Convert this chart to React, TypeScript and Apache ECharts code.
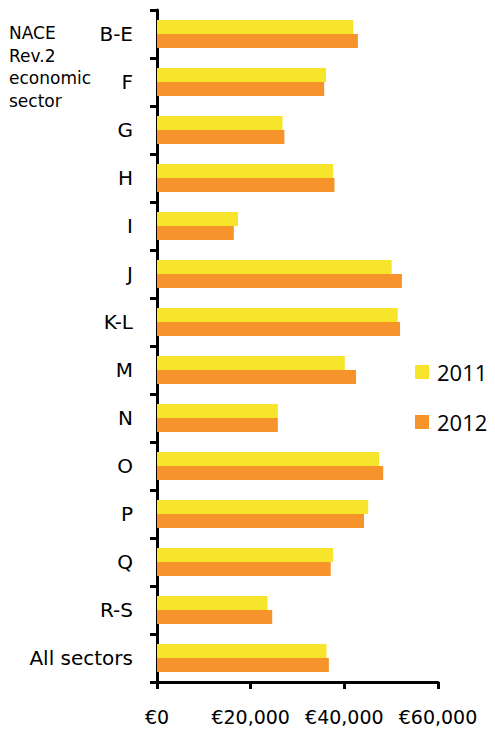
import React, { useEffect, useRef } from "react";
import * as echarts from "echarts";

const categories = ["B-E", "F", "G", "H", "I", "J", "K-L", "M", "N", "O", "P", "Q", "R-S", "All sectors"];
const values2011 = [41900, 36100, 26800, 37600, 17300, 50100, 51400, 40100, 25800, 47400, 45100, 37600, 23600, 36200];
const values2012 = [42900, 35700, 27200, 37900, 16400, 52300, 51900, 42500, 25800, 48300, 44200, 37100, 24600, 36700];
const seriesNames = ["2011", "2012"];
const seriesColors = ["#F7E52B", "#F7932B"];
const axisTitle = "NACE\nRev.2\neconomic\nsector";

export default function App() {
  const ref = useRef<HTMLDivElement>(null);
  useEffect(() => {
    if (!ref.current) return;
    const chart = echarts.init(ref.current, null, { renderer: "svg" });
    const fmt = (v: number) => "€" + v.toLocaleString("en-US");
    chart.setOption({
      animation: false,
      backgroundColor: "#ffffff",
      grid: { left: 157, right: 57, top: 10, bottom: 49, containLabel: false },
      xAxis: {
        type: "value",
        min: 0,
        max: 60000,
        interval: 20000,
        splitLine: { show: false },
        axisLine: { show: true, lineStyle: { color: "#000", width: 3 } },
        axisTick: { show: true, length: 7, lineStyle: { color: "#000", width: 3 } },
        axisLabel: {
          formatter: fmt,
          color: "#000",
          fontFamily: "DejaVu Sans",
          fontSize: 19,
          margin: 25,
        },
      },
      yAxis: {
        type: "category",
        inverse: true,
        data: categories,
        axisLine: { show: true, lineStyle: { color: "#000", width: 3 } },
        axisTick: { show: true, length: 7, alignWithLabel: false, lineStyle: { color: "#000", width: 3 } },
        axisLabel: {
          color: "#000",
          fontFamily: "DejaVu Sans",
          fontSize: 20,
          margin: 24,
        },
      },
      legend: {
        orient: "vertical",
        left: 415,
        top: 361,
        padding: 0,
        itemWidth: 14,
        itemHeight: 14,
        itemGap: 28,
        icon: "rect",
        data: seriesNames,
        textStyle: {
          color: "#000",
          fontFamily: "Open Sans",
          fontSize: 22,
          lineHeight: 22,
          padding: [0, 0, 0, 3],
        },
      },
      graphic: [
        {
          type: "text",
          left: 9,
          top: 22,
          style: {
            text: axisTitle,
            fontFamily: "DejaVu Sans",
            fontSize: 17,
            lineHeight: 22.5,
            fill: "#000",
          },
        },
      ],
      series: [
        {
          name: seriesNames[0],
          type: "bar",
          data: values2011,
          barWidth: 14,
          barGap: "0%",
          itemStyle: { color: seriesColors[0] },
        },
        {
          name: seriesNames[1],
          type: "bar",
          data: values2012,
          barWidth: 14,
          barGap: "0%",
          itemStyle: { color: seriesColors[1] },
        },
      ],
    });
    return () => chart.dispose();
  }, []);
  return <div ref={ref} style={{ width: 495, height: 731, position: "absolute", left: 0, top: 0 }} />;
}
